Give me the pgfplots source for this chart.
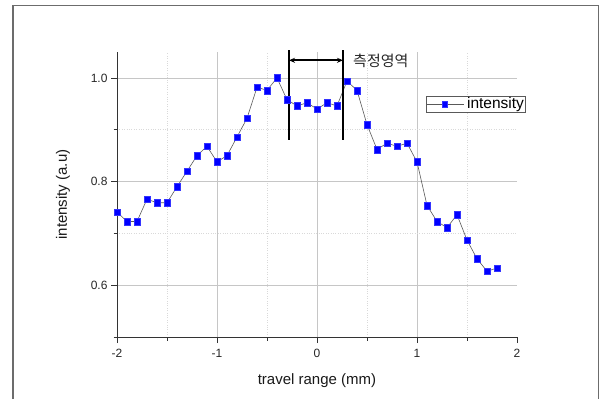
\documentclass[border=0pt]{standalone}
\usepackage{fontspec}
\setmainfont{Liberation Sans}
\newfontfamily\kr{Noto Sans CJK KR}
\usepackage{pgfplots}
\pgfplotsset{compat=1.18}
\usetikzlibrary{arrows.meta}
\begin{document}
\begin{tikzpicture}[x=1pt,y=1pt]
\path (0,0) rectangle (601,399);
\draw[gray!85!black, line width=1.8] (13,0) -- (13,393.5) -- (598.5,393.5) -- (598.5,0);
\begin{axis}[
  at={(117pt,62pt)}, anchor=south west,
  scale only axis, width=400pt, height=285pt,
  xmin=-2, xmax=2, ymin=0.5, ymax=1.05,
  axis x line*=bottom, axis y line*=left,
  axis line style={black!80, line width=0.9},
  xtick={-2,-1,0,1}, extra x ticks={2}, extra x tick style={grid=none},
  minor xtick={-1.5,-0.5,0.5,1.5},
  ytick={0.6,0.8,1.0}, minor ytick={0.5,0.7,0.9},
  yticklabel style={/pgf/number format/.cd, fixed, fixed zerofill, precision=1},
  xticklabel style={yshift=-3pt},
  /pgf/number format/assume math mode=true,
  tick align=outside,
  major tick length=6pt, minor tick length=3.5pt,
  tick style={black!80, line width=0.8},
  grid=both,
  major grid style={gray!45, line width=0.6},
  minor grid style={gray!30, dotted, line width=0.6},
  tick label style={font=\fontsize{12}{14}\selectfont, black!85},
  xlabel={travel range (mm)}, ylabel={intensity (a.u)},
  every axis x label/.style={at={(axis description cs:0.5,-0.154)}, anchor=center},
  every axis y label/.style={at={(axis description cs:-0.135,0.5)}, anchor=center, rotate=90},
  label style={font=\fontsize{15}{18}\selectfont, black!90},
  clip=false,
  legend style={at={(0.772,0.846)}, anchor=north west, draw=gray!70!black,
    font=\fontsize{15.5}{17}\selectfont, inner sep=0.5pt, outer sep=0pt,
    nodes={inner sep=1.2pt},
    /tikz/every odd column/.append style={column sep=2pt}},
  legend image code/.code={\draw[mark repeat=2,mark phase=2, mark size=2.8pt] plot coordinates {(0pt,0pt) (18pt,0pt) (37pt,0pt)};},
]
\addplot[black!65, line width=0.6, mark=square*, mark size=3.3pt,
  mark options={solid, fill=blue, draw=blue!80!white, line width=0.3}]
coordinates {
(-2.0,0.741) (-1.9,0.723) (-1.8,0.723) (-1.7,0.766) (-1.6,0.759) (-1.5,0.759)
(-1.4,0.790) (-1.3,0.820) (-1.2,0.850) (-1.1,0.868) (-1.0,0.838) (-0.9,0.850)
(-0.8,0.886) (-0.7,0.922) (-0.6,0.982) (-0.5,0.976) (-0.4,1.000) (-0.3,0.958)
(-0.2,0.946) (-0.1,0.952) (0.0,0.940) (0.1,0.952) (0.2,0.946) (0.3,0.994)
(0.4,0.976) (0.5,0.910) (0.6,0.862) (0.7,0.874) (0.8,0.868) (0.9,0.874)
(1.0,0.838) (1.1,0.754) (1.2,0.723) (1.3,0.711) (1.4,0.736) (1.5,0.687)
(1.6,0.651) (1.7,0.627) (1.8,0.633)
};
\addlegendentry{intensity}
\draw[black, line width=1.1] (axis cs:-0.28,1.053) -- (axis cs:-0.28,0.88);
\draw[black, line width=1.1] (axis cs:0.26,1.053) -- (axis cs:0.26,0.88);
\draw[{Stealth[length=6pt,width=5pt]}-{Stealth[length=6pt,width=5pt]}, line width=1.6] (axis cs:-0.28,1.034) -- (axis cs:0.26,1.034);
\node[anchor=west, font=\kr\fontsize{15}{18}\selectfont, black!85, inner sep=1pt] at (axis cs:0.35,1.032) {측정영역};
\end{axis}
\end{tikzpicture}
\end{document}
